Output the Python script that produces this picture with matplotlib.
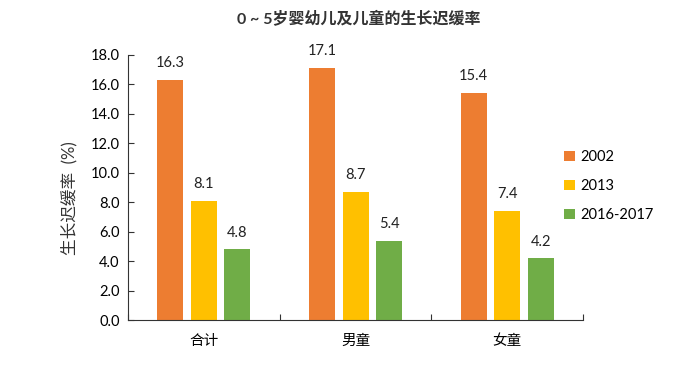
import matplotlib.pyplot as plt
import numpy as np

plt.rcParams['font.family'] = ['Lato', 'Noto Sans CJK SC', 'DejaVu Sans']

categories = ['合计', '男童', '女童']
years = ['2002', '2013', '2016-2017']
rates = {
    '2002': [16.3, 17.1, 15.4],
    '2013': [8.1, 8.7, 7.4],
    '2016-2017': [4.8, 5.4, 4.2],
}
colors = ['#ED7D31', '#FFC000', '#70AD47']
y_ticks = [0, 2, 4, 6, 8, 10, 12, 14, 16, 18]

fig = plt.figure(figsize=(7, 3.89), dpi=100)
ax = fig.add_axes([0.183, 0.177, 0.650, 0.682])

x = np.arange(len(categories))
width = 0.172
step = 0.221
for i, (yr, c) in enumerate(zip(years, colors)):
    vals = rates[yr]
    bars = ax.bar(x + (i - 1) * step, vals, width, color=c, label=yr)
    for b, v in zip(bars, vals):
        ax.annotate(f'{v:.1f}', (b.get_x() + b.get_width() / 2, v),
                    xytext=(0, 7), textcoords='offset points',
                    ha='center', va='bottom', fontsize=10.5, color='#222222')

ax.set_xlim(-0.5, 2.5)
ax.set_ylim(0, 18)
ax.set_yticks(y_ticks)
ax.set_yticklabels([f'{t:.1f}' for t in y_ticks])
ax.set_xticks([-0.5, 0.5, 1.5, 2.5])
ax.set_xticklabels([])
ax.set_xticks(x, minor=True)
ax.set_xticklabels(categories, minor=True)
ax.tick_params(axis='x', which='minor', length=0, pad=10, labelsize=10.5)
ax.tick_params(axis='x', which='major', direction='in', length=4, color='#333333')
ax.tick_params(axis='y', direction='in', length=4, labelsize=10.5, pad=6, color='#333333')

for s in ['top', 'right']:
    ax.spines[s].set_visible(False)
for s in ['left', 'bottom']:
    ax.spines[s].set_color('#333333')

ax.set_ylabel('生长迟缓率  (%)', fontsize=12, color='#333333')
ax.yaxis.set_label_coords(-0.112, 0.46)
fig.text(0.513, 0.95, '0 ~ 5岁婴幼儿及儿童的生长迟缓率', ha='center', va='center',
         fontsize=11.5, fontweight='bold', color='#333333')

ax.legend(loc='center left', bbox_to_anchor=(0.93, 0.505), frameon=False,
          fontsize=10.5, handlelength=0.7, handleheight=0.7, labelspacing=1.05,
          handletextpad=0.4)

fig.savefig('out.png', dpi=100)
